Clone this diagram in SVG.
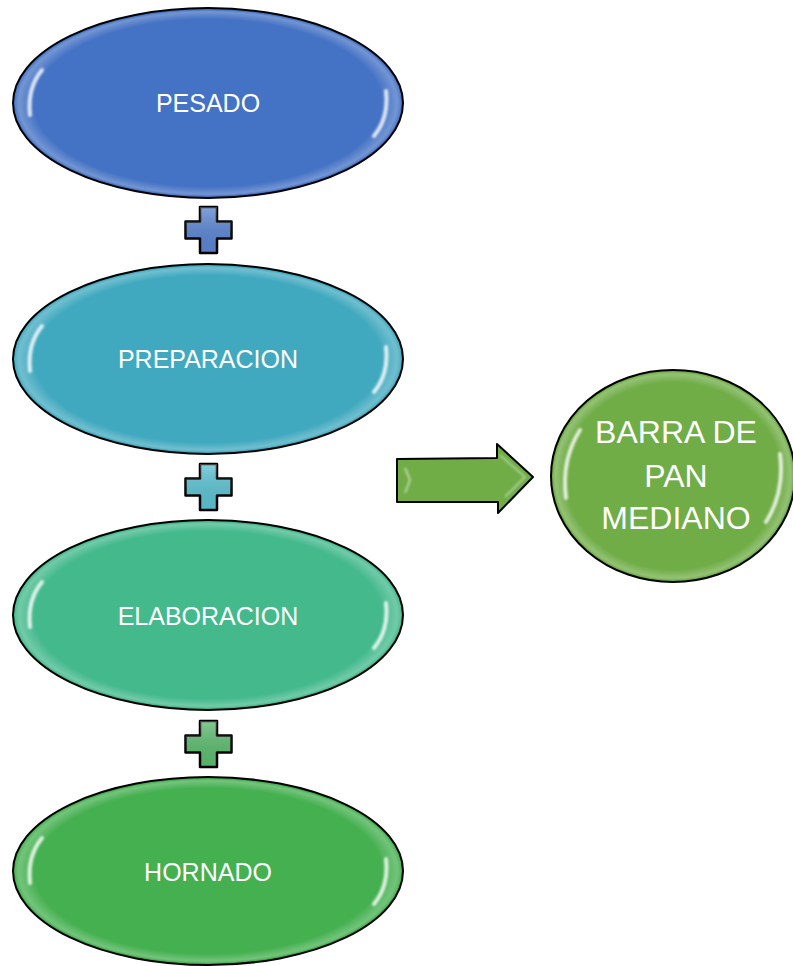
<svg xmlns="http://www.w3.org/2000/svg" width="793" height="966" viewBox="0 0 793 966">
<defs>
<radialGradient id="gloss" cx="0.5" cy="0.5" r="0.5">
<stop offset="0.9" stop-color="#ffffff" stop-opacity="0"/>
<stop offset="0.98" stop-color="#ffffff" stop-opacity="0.25"/>
<stop offset="1" stop-color="#ffffff" stop-opacity="0.1"/>
</radialGradient>
<linearGradient id="plusg" x1="0" y1="0" x2="0" y2="1">
<stop offset="0" stop-color="#ffffff" stop-opacity="0.25"/>
<stop offset="1" stop-color="#000000" stop-opacity="0.05"/>
</linearGradient>
<filter id="soft" x="-50%" y="-50%" width="200%" height="200%"><feGaussianBlur stdDeviation="1.2"/></filter>
<path id="plus" d="M -8.5 -23 H 8.5 V -8.5 H 23 V 8.5 H 8.5 V 23 H -8.5 V 8.5 H -23 V -8.5 H -8.5 Z"/>
</defs>
<style>
.node{stroke:#000;stroke-width:2}
.hl{fill:none;stroke:#fff;stroke-width:4;stroke-linecap:round;opacity:0.8;filter:url(#soft)}
.lbl{font-family:"Liberation Sans",Arial,sans-serif;font-size:25px;fill:#fff;text-anchor:middle}
.big{font-family:"Liberation Sans",Arial,sans-serif;font-size:32px;fill:#fff;text-anchor:middle}
.pl{stroke:#000;stroke-width:2.5;stroke-linejoin:round}
</style>
<rect width="793" height="966" fill="#fff"/>
<g id="pesado">
<ellipse class="node" cx="208" cy="103" rx="195" ry="95" fill="#4472C4"/>
<ellipse cx="208" cy="103" rx="193" ry="93" fill="url(#gloss)"/>
<path class="hl" d="M 30 115 Q 27 88 42 70"/>
<path class="hl" d="M 386 91 Q 389 118 374 136"/>
<text class="lbl" x="208" y="112">PESADO</text>
</g>
<g id="preparacion">
<ellipse class="node" cx="208" cy="359" rx="195" ry="95" fill="#41A9BF"/>
<ellipse cx="208" cy="359" rx="193" ry="93" fill="url(#gloss)"/>
<path class="hl" d="M 30 371 Q 27 344 42 326"/>
<path class="hl" d="M 386 347 Q 389 374 374 392"/>
<text class="lbl" x="208" y="368">PREPARACION</text>
</g>
<g id="elaboracion">
<ellipse class="node" cx="208" cy="615" rx="195" ry="95" fill="#43B98C"/>
<ellipse cx="208" cy="615" rx="193" ry="93" fill="url(#gloss)"/>
<path class="hl" d="M 30 627 Q 27 600 42 582"/>
<path class="hl" d="M 386 603 Q 389 630 374 648"/>
<text class="lbl" x="208" y="625">ELABORACION</text>
</g>
<g id="hornado">
<ellipse class="node" cx="208" cy="871" rx="195" ry="94" fill="#45B050"/>
<ellipse cx="208" cy="871" rx="193" ry="92" fill="url(#gloss)"/>
<path class="hl" d="M 30 883 Q 27 856 42 838"/>
<path class="hl" d="M 386 859 Q 389 886 374 904"/>
<text class="lbl" x="208" y="881">HORNADO</text>
</g>
<g id="barra">
<ellipse class="node" cx="673" cy="476" rx="122" ry="106" fill="#70AD47"/>
<ellipse cx="673" cy="476" rx="120" ry="104" fill="url(#gloss)"/>
<path class="hl" d="M 566 498 Q 561 460 580 430"/>
<path class="hl" d="M 780 454 Q 785 492 766 522"/>
<text class="big" x="676" y="443">BARRA DE</text>
<text class="big" x="676" y="487">PAN</text>
<text class="big" x="676" y="529">MEDIANO</text>
</g>
<g id="connectors">
<g transform="translate(208.5,230)"><use href="#plus" class="pl" fill="#5A85D2"/><use href="#plus" fill="url(#plusg)"/></g>
<g transform="translate(208.5,487)"><use href="#plus" class="pl" fill="#5CC2D2"/><use href="#plus" fill="url(#plusg)"/></g>
<g transform="translate(208.5,744)"><use href="#plus" class="pl" fill="#5DBB6F"/><use href="#plus" fill="url(#plusg)"/></g>
<path d="M 397 459 L 497 458 L 497 444 L 533 477 L 498 513 L 498 502 L 397 502 Z" fill="#70AD47" stroke="#000" stroke-width="2" stroke-linejoin="round"/>
<path d="M 405 468 L 410 480 L 405 493" fill="none" stroke="#fff" stroke-width="2" opacity="0.5" filter="url(#soft)"/>
<path d="M 500 455 L 525 477 L 505 497" fill="none" stroke="#fff" stroke-width="2" opacity="0.4" filter="url(#soft)"/>
</g>
</svg>
